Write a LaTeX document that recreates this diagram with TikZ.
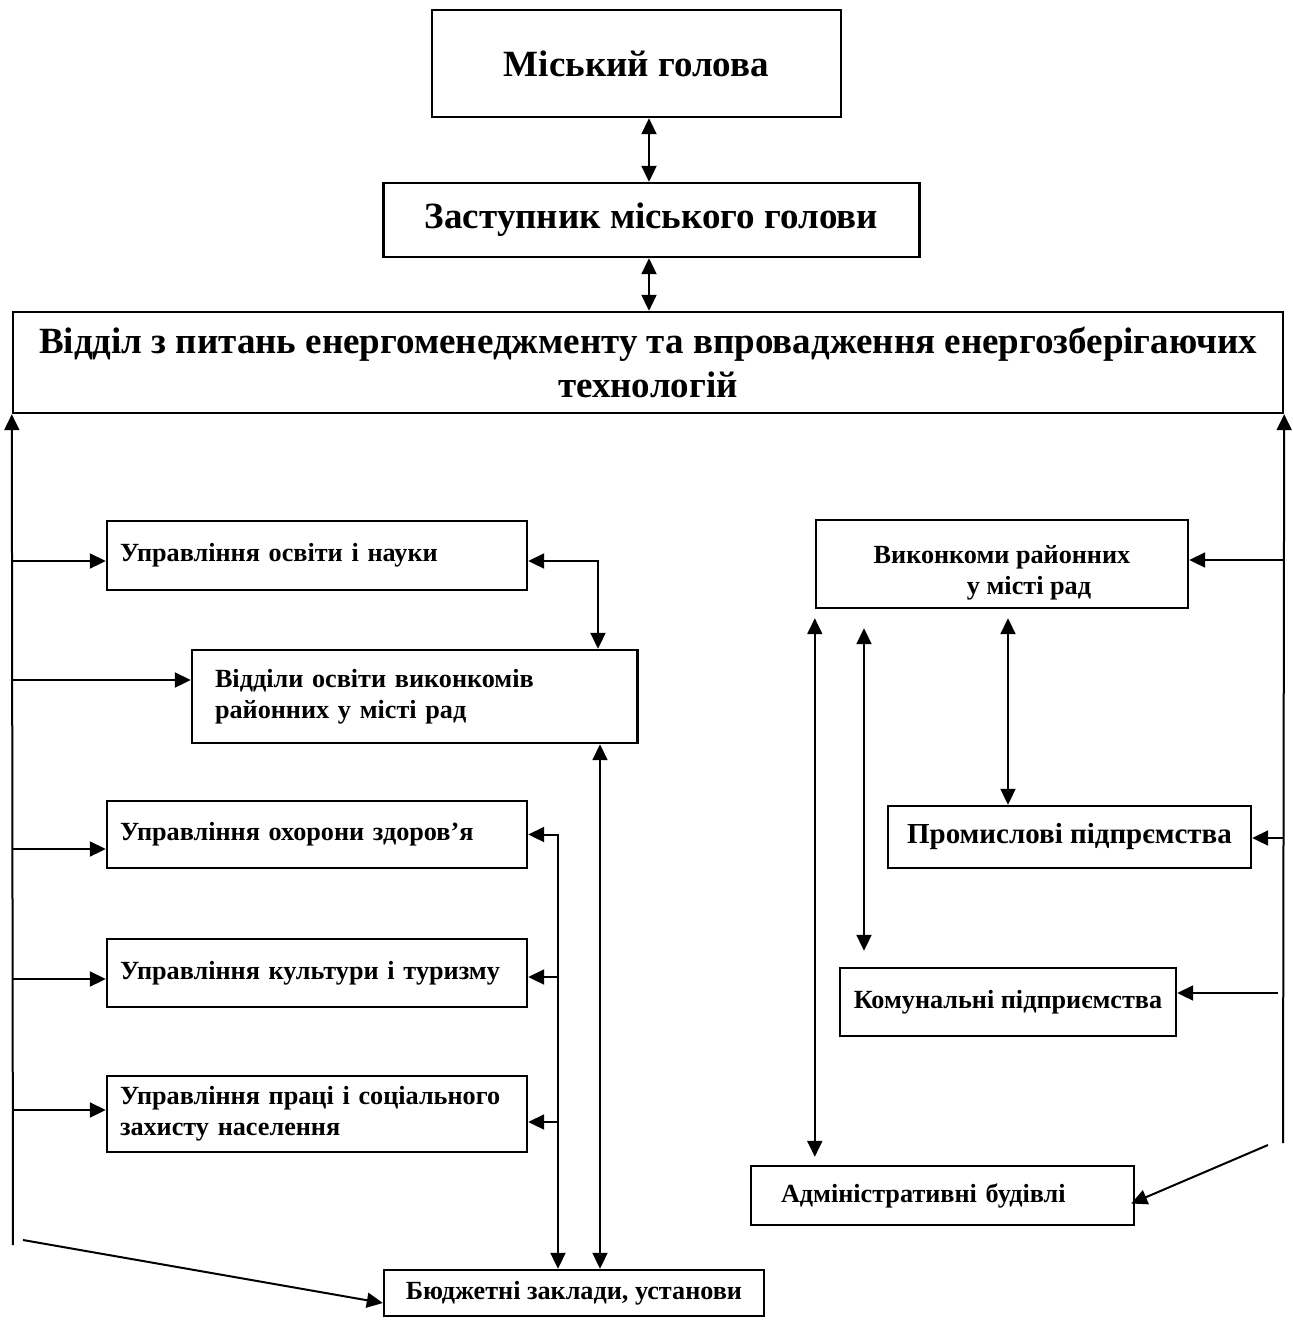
\documentclass[tikz,border=0pt]{standalone}
\usepackage{fontspec}
\setmainfont{Liberation Serif}
\usetikzlibrary{arrows.meta,calc}
\newcommand\bigf{\fontsize{18.5pt}{22pt}\selectfont\bfseries}
\newcommand\smlf{\fontsize{13.1pt}{15.5pt}\selectfont\bfseries}
\tikzset{
  box/.style={draw, line width=1.2pt, inner sep=0pt, align=center, font=\smlf},
  lbox/.style={box, align=left},
  arr/.style={line width=1pt, -{Triangle[length=8pt,width=7.5pt]}},
  darr/.style={line width=1pt, {Triangle[length=8pt,width=7.5pt]}-{Triangle[length=8pt,width=7.5pt]}}
}
\begin{document}
\begin{tikzpicture}[x=0.5pt,y=-0.5pt]
\useasboundingbox (0,0) rectangle (1293,1324);
% boxes
\node[box, font=\bigf, minimum width=204.5pt, minimum height=53.5pt] (b1) at (636.5,63.5) {Міський голова};
\node[box, font=\bigf, minimum width=268pt, minimum height=37pt] (b2) at (651.5,220) {Заступник міського голови};
\node[box, font=\bigf, minimum width=635pt, minimum height=50.5pt] (b3) at (648,362.5) {Відділ з питань енергоменеджменту та впровадження енергозберігаючих\\технологій};
\node[lbox, inner xsep=6.5pt, text width=197pt, minimum height=34.5pt] (b4) at (317,555.5) {Управління освіти і науки};
\node[lbox, inner xsep=11.5pt, text width=199.75pt, minimum height=46.5pt] (b5) at (414.75,696.5) {Відділи освіти виконкомів\\районних у місті рад};
\node[lbox, inner xsep=6.5pt, text width=197pt, minimum height=33.5pt] (b6) at (317,834.5) {Управління охорони здоров’я};
\node[lbox, inner xsep=6.5pt, text width=197pt, minimum height=34pt] (b7) at (317,973) {Управління культури і туризму};
\node[lbox, inner xsep=6.5pt, text width=197pt, minimum height=38pt] (b8) at (317,1114) {Управління праці і соціального\\захисту населення};
\node[box, minimum width=190pt, minimum height=23pt] (b9) at (574,1293) {Бюджетні заклади, установи};
\node[box, minimum width=186pt, minimum height=44pt] (b10) at (1002,564) {\rule{0pt}{17.5pt}Виконкоми районних\\\hspace*{27pt}у місті рад};
\node[box, font=\fontsize{14.5pt}{16pt}\selectfont\bfseries, minimum width=181.5pt, minimum height=31pt] (b11) at (1069.5,837) {Промислові підпрємства};
\node[box, minimum width=168pt, minimum height=34pt] (b12) at (1008,1002) {Комунальні підприємства};
\node[lbox, inner xsep=15pt, text width=161.5pt, minimum height=29.5pt] (b13) at (942.5,1195.5) {Адміністративні будівлі};
% helper coordinates
\coordinate (mx) at (649,0);
\coordinate (LB) at (13,1245);
\coordinate (RB) at (1283,1143);
\coordinate (L1) at (13,561);
\coordinate (L2) at (13,680);
\coordinate (L3) at (13,849);
\coordinate (L4) at (13,979);
\coordinate (L5) at (13,1110);
\coordinate (L6) at (23,1240);
\coordinate (c598) at (598,0);
\coordinate (c600) at (600,0);
\coordinate (c558) at (558,0);
\coordinate (R7) at (558,977);
\coordinate (R8) at (558,1122);
\coordinate (RB1) at (1283,560);
\coordinate (RB2) at (1283,838);
\coordinate (RB3) at (1278,993);
\coordinate (RB4) at (1268,1145);
\coordinate (c864) at (864,0);
\coordinate (c1008) at (1008,0);
% connectors top
\draw[darr] (b1.south -| mx) -- (b2.north -| mx);
\draw[darr] (b2.south -| mx) -- (b3.north -| mx);
% buses
\draw[arr] (LB) -- (b3.south west);
\draw[arr] (RB) -- (b3.south east);
% left branches
\draw[arr] (L1) -- (L1 -| b4.west);
\draw[arr] (L2) -- (L2 -| b5.west);
\draw[arr] (L3) -- (L3 -| b6.west);
\draw[arr] (L4) -- (L4 -| b7.west);
\draw[arr] (L5) -- (L5 -| b8.west);
\draw[arr] (L6) -- ($(b9.west)+(0,10)$);
% middle links
\draw[darr] (b4.east |- L1) -| (c598 |- b5.north);
\draw[darr] (b5.south -| c600) -- (b9.north -| c600);
\draw[darr] (b6.east) -| (c558 |- b9.north);
\draw[arr] (R7) -- (R7 -| b7.east);
\draw[arr] (R8) -- (R8 -| b8.east);
% right branches
\draw[arr] (RB1) -- (RB1 -| b10.east);
\draw[arr] (RB2) -- (RB2 -| b11.east);
\draw[arr] (RB3) -- (RB3 -| b12.east);
\draw[arr] (RB4) -- ($(b13.east)+(-4,8)$);
% right verticals
\draw[darr] ($(b10.south west)+(0,9)$) -- ($(b13.north -| b10.west)+(0,-8)$);
\draw[darr] ($(b10.south -| c864)+(0,19)$) -- ($(b12.north -| c864)+(0,-16)$);
\draw[darr] ($(b10.south -| c1008)+(0,9)$) -- (b11.north -| c1008);
\end{tikzpicture}
\end{document}
